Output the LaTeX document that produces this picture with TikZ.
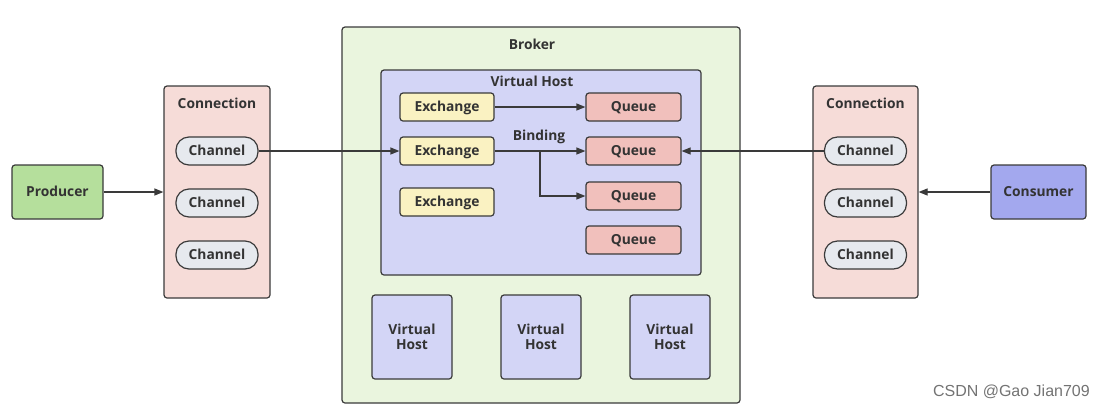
\documentclass[tikz,border=0pt]{standalone}
\usepackage{fontspec}
\setmainfont{Open Sans}
\newfontfamily\wmfont{Liberation Sans}
\usetikzlibrary{arrows.meta}
\definecolor{ln}{HTML}{3A3A3A}
\definecolor{txt}{HTML}{333333}
\definecolor{prodc}{HTML}{B5DF9C}
\definecolor{consc}{HTML}{A3A8EE}
\definecolor{connc}{HTML}{F6DCD8}
\definecolor{chanc}{HTML}{E6E9EE}
\definecolor{brokc}{HTML}{EAF5DE}
\definecolor{vhc}{HTML}{D3D5F6}
\definecolor{exc}{HTML}{FAF2C2}
\definecolor{qc}{HTML}{F1C0BC}
\tikzset{
  fnt/.style={font=\fontsize{13.8}{15.5}\selectfont\bfseries},
  base/.style={draw=ln, line width=1.2pt, rounded corners=3pt, text=txt, fnt, inner sep=0pt, text height=9.8pt, text depth=0pt},
  chan/.style={draw=ln, line width=1.2pt, rounded corners=13pt, fill=chanc, text=txt, fnt, minimum width=82pt, minimum height=28pt, inner sep=0pt, text height=9.8pt, text depth=0pt},
  exch/.style={base, fill=exc, minimum width=94pt, minimum height=28pt},
  queue/.style={base, fill=qc, minimum width=95pt, minimum height=28pt},
  vhost/.style={draw=ln, line width=1.2pt, rounded corners=3pt, text=txt, fnt, inner sep=0pt, fill=vhc, minimum width=80pt, minimum height=84pt, align=center},
  conn/.style={draw=ln, line width=1.2pt, -{Triangle[length=9pt,width=7pt]}},
  ttl/.style={text=txt, fnt, inner sep=0pt, text height=9.8pt, text depth=0pt}
}
\begin{document}
\begin{tikzpicture}[x=1pt,y=-1pt]
\useasboundingbox (0,0) rectangle (1104,408);
% Broker
\node[base, fill=brokc, minimum width=398pt, minimum height=376pt] (broker) at (541,215) {};
\node[ttl] (brokert) at (532,45) {Broker};
% Virtual host
\node[base, fill=vhc, minimum width=320pt, minimum height=205pt] (vh) at (541,172.5) {};
\node[ttl] (vht) at (532,82) {Virtual Host};
% Exchanges
\node[exch] (ex1) at (447,107) {Exchange};
\node[exch] (ex2) at (447,151) {Exchange};
\node[exch] (ex3) at (447,202) {Exchange};
% Queues
\node[queue] (q1) at (633.5,107) {Queue};
\node[queue] (q2) at (633.5,151) {Queue};
\node[queue] (q3) at (633.5,196) {Queue};
\node[queue] (q4) at (633.5,240) {Queue};
\node[ttl] (bind) at (539,136) {Binding};
% bottom virtual hosts
\node[vhost] (vh2) at (412,337) {Virtual\\Host};
\node[vhost] (vh3) at (541,337) {Virtual\\Host};
\node[vhost] (vh4) at (670,337) {Virtual\\Host};
% Left connection
\node[base, fill=connc, minimum width=106pt, minimum height=212pt] (lconn) at (217,192) {};
\node[ttl] (lconnt) at (217,104) {Connection};
\node[chan] (lc1) at (217,151) {Channel};
\node[chan] (lc2) at (217,203) {Channel};
\node[chan] (lc3) at (217,255) {Channel};
% Right connection
\node[base, fill=connc, minimum width=105pt, minimum height=212pt] (rconn) at (865.5,192) {};
\node[ttl] (rconnt) at (865.5,104) {Connection};
\node[chan] (rc1) at (865.5,151) {Channel};
\node[chan] (rc2) at (865.5,203) {Channel};
\node[chan] (rc3) at (865.5,255) {Channel};
% Producer / Consumer
\node[base, fill=prodc, minimum width=91pt, minimum height=54pt] (prod) at (57.5,192) {Producer};
\node[base, fill=consc, minimum width=95pt, minimum height=54pt] (cons) at (1038.5,192) {Consumer};
% connectors
\draw[conn] (prod.east) -- (prod.east -| lconn.west);
\draw[conn] (cons.west) -- (cons.west -| rconn.east);
\draw[conn] (lc1.east) -- (ex2.west);
\draw[conn] (rc1.west) -- (q2.east);
\draw[conn] (ex1.east) -- (q1.west);
\draw[conn] (ex2.east) -- (q2.west);
\coordinate (br) at (540,151);
\draw[conn] (br) |- (q3.west);
% watermark
\node[text=black!55, font=\wmfont\fontsize{16}{18}\selectfont, anchor=east, inner sep=0pt] (wm) at (1090,392) {CSDN @Gao Jian709};
\end{tikzpicture}
\end{document}
